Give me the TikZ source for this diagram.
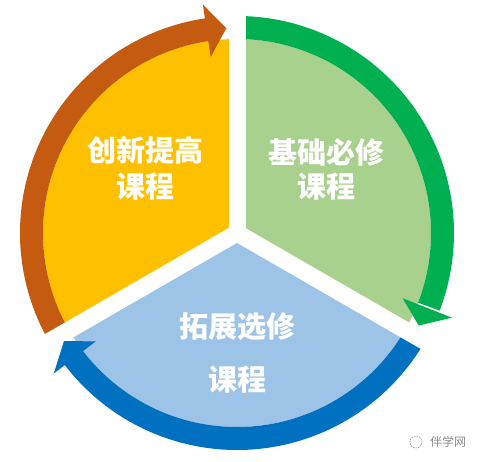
\documentclass[tikz,border=0pt]{standalone}
\usepackage{fontspec}
\newfontfamily\cjk{Noto Sans CJK SC}
\definecolor{secorange}{HTML}{FFC000}
\definecolor{arrorange}{HTML}{C55A11}
\definecolor{secgreen}{HTML}{A9D18E}
\definecolor{arrgreen}{HTML}{00B050}
\definecolor{secblue}{HTML}{9DC3E6}
\definecolor{arrblue}{HTML}{0070C0}
\tikzset{
  band/.style={line width=23pt},
  gapline/.style={white, line width=17pt},
  seclabel/.style={text=white, font=\cjk\bfseries\fontsize{29}{31}\selectfont, inner sep=0pt},
  wmtext/.style={text=black!45, font=\cjk\fontsize{12}{13}\selectfont, inner sep=0pt}
}
\begin{document}
\begin{tikzpicture}[x=1pt,y=1pt]
\useasboundingbox (0,0) rectangle (479,462);
\begin{scope}[shift={(237,229)}]
  % sectors
  \fill[secgreen] (0,0) -- (90:194) arc[start angle=90,end angle=-30,radius=194] -- cycle;
  \fill[secblue] (0,0) -- (-30:194) arc[start angle=-30,end angle=-150,radius=194] -- cycle;
  \fill[secorange] (0,0) -- (210:194) arc[start angle=210,end angle=90,radius=194] -- cycle;
  % arrow bands
  \draw[band, arrgreen] (90:205.5) arc[start angle=90,end angle=-21,radius=205.5];
  \draw[band, arrorange] (210:205.5) arc[start angle=210,end angle=98,radius=205.5];
  \draw[band, arrblue] (330:205.5) arc[start angle=330,end angle=217,radius=205.5];
  % gaps
  \draw[gapline] (0,0) -- (90:250);
  \draw[gapline] (0,0) -- (-30:250);
  \draw[gapline] (0,0) -- (210:250);
  \fill[white] (0,0) circle[radius=9];
  % arrow heads
  \fill[arrgreen] (-21.5:178) -- (-27:204) -- (-21.5:231) -- cycle;
  \fill[arrorange] (98.5:178) -- (93:205) -- (98.5:231) -- cycle;
  \fill[arrblue] (217.5:178) -- (212:204) -- (217.5:231) -- cycle;
\end{scope}
\node[seclabel] (o1) at (145,312) {创新提高};
\node[seclabel] (o2) at (145,275) {课程};
\node[seclabel] (g1) at (326,310) {基础必修};
\node[seclabel] (g2) at (326,275) {课程};
\node[seclabel] (b1) at (237,135) {拓展选修};
\node[seclabel] (b2) at (237,82) {课程};
\node[wmtext] (wm) at (448,20) {伴学网};
\draw[black!40, line width=0.6pt, dash pattern=on 1.5pt off 1pt] (416,20) circle[radius=6];
\end{tikzpicture}
\end{document}
